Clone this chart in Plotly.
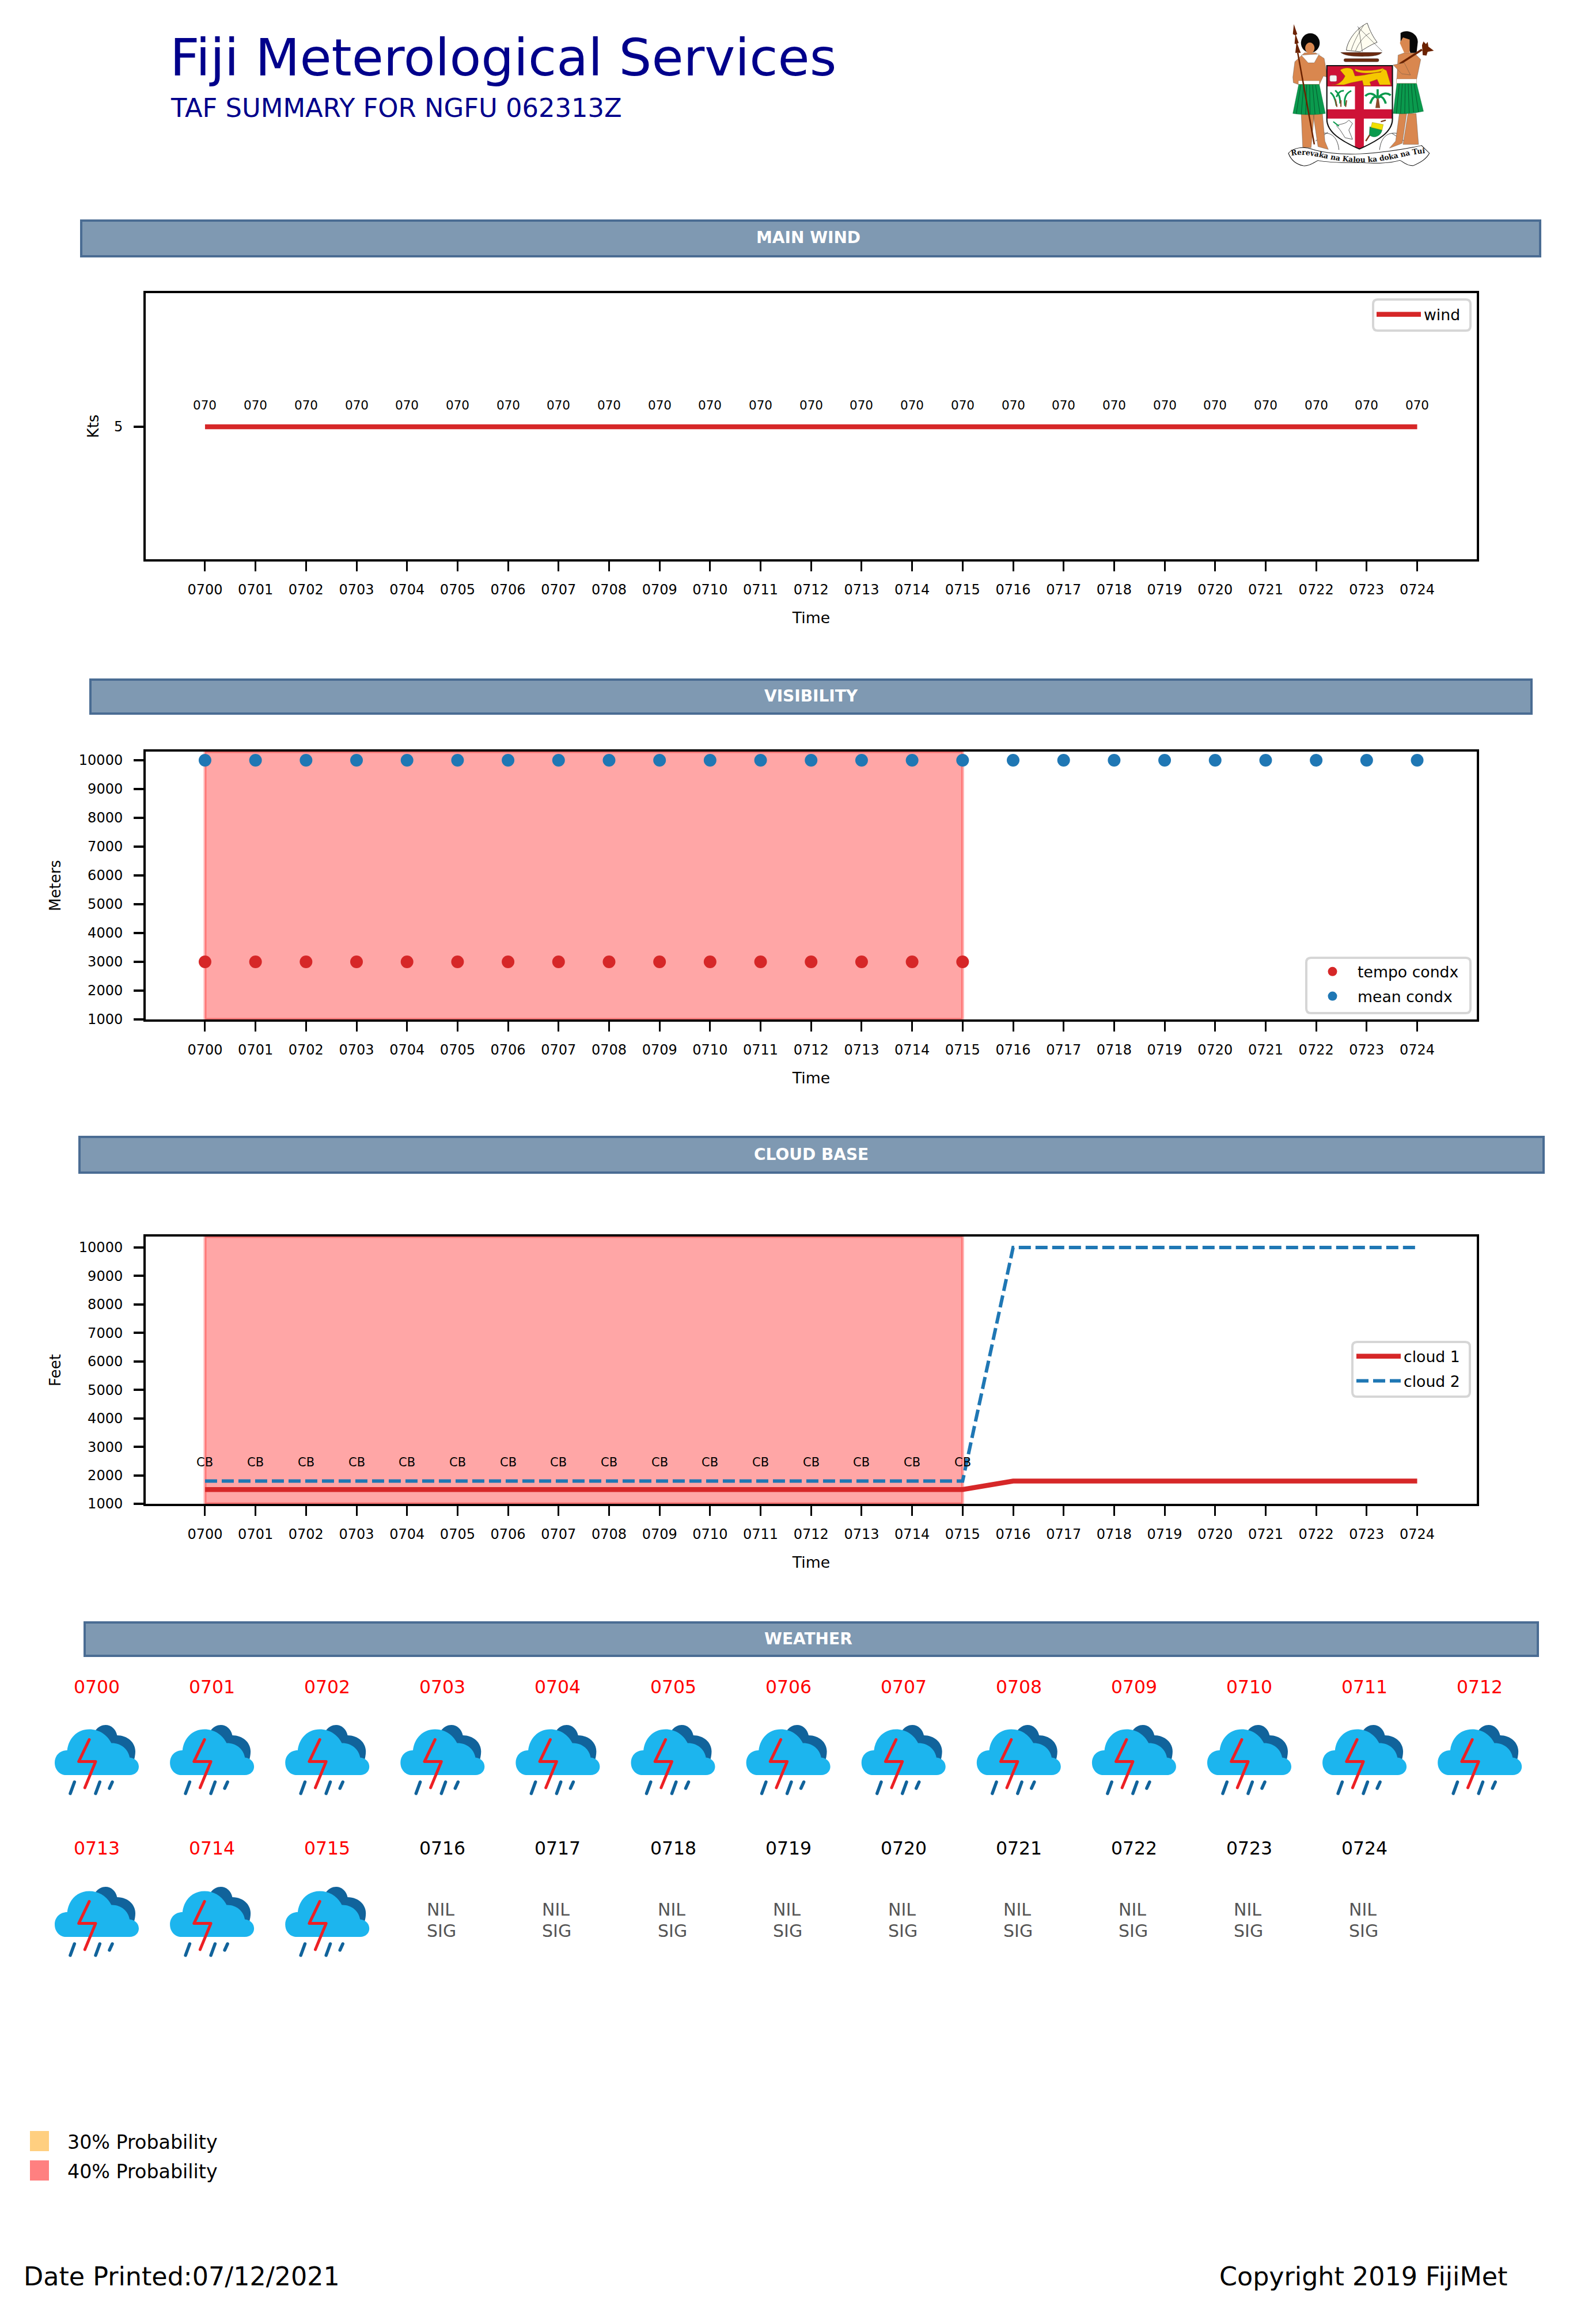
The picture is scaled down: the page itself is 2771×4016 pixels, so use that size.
import base64
import plotly.graph_objects as go

# ---------- data ----------
times = ["0700","0701","0702","0703","0704","0705","0706","0707","0708","0709","0710","0711","0712",
         "0713","0714","0715","0716","0717","0718","0719","0720","0721","0722","0723","0724"]
wind_speed = [5,5,5,5,5,5,5,5,5,5,5,5,5,5,5,5,5,5,5,5,5,5,5,5,5]
wind_dir = ["070","070","070","070","070","070","070","070","070","070","070","070","070",
            "070","070","070","070","070","070","070","070","070","070","070","070"]
vis_mean = [10000,10000,10000,10000,10000,10000,10000,10000,10000,10000,10000,10000,10000,
            10000,10000,10000,10000,10000,10000,10000,10000,10000,10000,10000,10000]
vis_tempo_times = ["0700","0701","0702","0703","0704","0705","0706","0707","0708","0709","0710",
                   "0711","0712","0713","0714","0715"]
vis_tempo = [3000,3000,3000,3000,3000,3000,3000,3000,3000,3000,3000,3000,3000,3000,3000,3000]
cloud1 = [1500,1500,1500,1500,1500,1500,1500,1500,1500,1500,1500,1500,1500,1500,1500,1500,
          1800,1800,1800,1800,1800,1800,1800,1800,1800]
cloud2 = [1800,1800,1800,1800,1800,1800,1800,1800,1800,1800,1800,1800,1800,1800,1800,1800,
          10000,10000,10000,10000,10000,10000,10000,10000,10000]
cb_times = vis_tempo_times
cb_labels = ["CB","CB","CB","CB","CB","CB","CB","CB","CB","CB","CB","CB","CB","CB","CB","CB"]
weather_code = ["TS","TS","TS","TS","TS","TS","TS","TS","TS","TS","TS","TS","TS","TS","TS","TS",
                "NIL","NIL","NIL","NIL","NIL","NIL","NIL","NIL","NIL"]
y_ticks = [1000,2000,3000,4000,5000,6000,7000,8000,9000,10000]

# ---------- page ----------
W, H = 2771, 4016
FONT = "DejaVu Sans"
RED, BLUE = "#d62728", "#1f77b4"
px = lambda x: x / W
py = lambda y: 1 - y / H

def b64svg(s):
    return "data:image/svg+xml;base64," + base64.b64encode(s.encode()).decode()

ICON = b64svg('''<svg xmlns="http://www.w3.org/2000/svg" viewBox="0 0 160 130">
<path fill="#11639b" d="M78 14C83 8 89 5 95.3 5C105 5 113 12 115.3 23C133 23 147 35 147 51C147 56 146 61 145 65L110 60Z"/>
<path fill="#1cb5ee" d="M27 92H137C147 92 153 85 153 77.5C153 70 148 63 137 61.5C135 47 122 36 105.3 36.4C98 22 84 12.5 67 12.5C46 12.5 31 28 28.7 49C16 49 7 58 7 70.4C7 83 16 92 27 92Z"/>
<g fill="none" stroke-linecap="round">
<path stroke="#ed2024" stroke-width="5" stroke-linejoin="round" d="M67 30.4L48.7 68.6H78L59.3 114"/>
<path stroke="#11639b" stroke-width="5.5" d="M41.3 104L34 124M85.3 104L78 124M107 104L102 115"/>
</g></svg>''')

ARMS = b64svg('''<svg xmlns="http://www.w3.org/2000/svg" viewBox="300 90 630 680" preserveAspectRatio="none">
<defs><clipPath id="sh"><path d="M476 298H742V540C742 600 680 640 608 676C535 640 476 600 476 540Z"/></clipPath>
<path id="rb" d="M332 706C420 690 480 735 610 736C730 738 800 695 888 695"/></defs>
<g fill="none" stroke="#222" stroke-width="2">
<path d="M440 610C490 590 520 620 525 680M780 610C725 590 695 620 690 680M430 640L480 600M790 640L740 605"/></g>
<!-- boat -->
<path fill="#fffdf0" stroke="#222" stroke-width="2" d="M555 228C560 180 600 125 640 105C650 140 665 170 680 192C650 205 625 225 610 235Z"/>
<path fill="none" stroke="#222" stroke-width="1.5" d="M575 228C585 190 605 150 625 115M592 232C605 195 625 165 650 150M605 125L620 235M600 120L700 232"/>
<path fill="#6b2a10" stroke="#222" d="M532 238H700C690 250 670 256 620 256C570 256 545 250 532 238Z"/>
<rect x="545" y="266" width="142" height="14" rx="6" fill="#6b2a10" stroke="#222"/>
<!-- left man -->
<path fill="#d9874f" stroke="#444" d="M385 240H430L465 265L478 350L462 345L445 385H365L340 375L338 350L346 280Z"/>
<path fill="#d9874f" stroke="#444" d="M372 515H425L412 670L378 668ZM420 515H458L468 640L482 678L440 665Z"/>
<path fill="#0a9a4d" stroke="#075c30" d="M362 382H445L470 515C430 522 380 522 338 515Z"/>
<path fill="none" stroke="#075c30" stroke-width="2.5" d="M370 385L352 515M382 385L372 518M394 385L390 520M406 385L408 520M418 385L428 518M430 385L448 516"/>
<rect x="360" y="366" width="86" height="16" fill="#fff" stroke="#8a5a2a"/>
<ellipse cx="409" cy="195" rx="38" ry="44" fill="#080808"/>
<ellipse cx="407" cy="218" rx="19" ry="25" fill="#d9874f"/>
<path fill="#fff" stroke="#555" d="M372 250L445 245L425 285H400Z"/>
<path fill="none" stroke="#6b2200" stroke-width="6" d="M358 240L425 655"/>
<path fill="#6b2200" d="M342 110L356 155L350 158L362 195L356 198L370 240L348 240L352 200L345 198L348 160L338 155Z"/>
<!-- right man -->
<path fill="#d9874f" stroke="#444" d="M790 240H830L857 270L840 360H760L765 250Z"/>
<path fill="#d9874f" stroke="#444" d="M800 515H770L755 640L730 672L782 650ZM805 515H838L848 655H785Z"/>
<path fill="#0a9a4d" stroke="#075c30" d="M760 378H840L868 505C825 515 785 518 745 515Z"/>
<path fill="none" stroke="#075c30" stroke-width="2.5" d="M770 380L758 515M782 380L775 515M794 380L792 515M806 380L810 513M818 380L828 511M830 380L848 508"/>
<rect x="758" y="358" width="82" height="20" fill="#fff" stroke="#8a5a2a"/>
<path fill="#080808" d="M775 150C800 130 845 150 845 190L840 240H815L800 200L775 195Z"/>
<path fill="#d9874f" d="M772 195L785 170L812 180V240H790Z"/>
<path fill="none" stroke="#6b2200" stroke-width="9" d="M772 290L862 225"/>
<path fill="#6b2200" d="M862 205L868 188L878 200L885 190L888 212L910 230L885 235L880 252L865 250Z"/>
<path fill="#d9874f" stroke="#444" d="M745 295L790 285L815 340L780 335Z"/>
<!-- shield -->
<path fill="#fff" d="M476 298H742V540C742 600 680 640 608 676C535 640 476 600 476 540Z"/>
<g clip-path="url(#sh)">
<rect x="476" y="298" width="266" height="94" fill="#ce1237"/>
<rect x="590" y="392" width="36" height="290" fill="#ce1237"/>
<rect x="476" y="496" width="266" height="42" fill="#ce1237"/>
</g>
<path fill="none" stroke="#111" stroke-width="5" d="M476 298H742V540C742 600 680 640 608 676C535 640 476 600 476 540Z"/>
<path fill="#f6c800" stroke="#8a6a00" d="M495 385C520 388 540 370 550 345L530 318C545 305 575 305 582 320L590 345C625 345 660 330 695 328L700 310L718 320L735 385H690L680 360L650 372L655 388H625L620 365L575 375L545 385Z"/>
<path fill="#f6c800" stroke="#8a6a00" d="M590 312C620 325 670 322 705 310L700 322C660 335 615 335 592 322Z"/>
<rect x="488" y="342" width="28" height="28" rx="6" fill="#f4f4f4" stroke="#777"/>
<g fill="none" stroke="#0a9a4d" stroke-width="7"><path d="M515 480C512 450 500 425 490 420M515 440C520 425 530 410 545 412M550 480C545 450 550 425 575 412M530 470C530 440 525 425 510 410"/></g>
<g fill="none" stroke="#8a4a2a" stroke-width="5"><path d="M517 485L510 450M552 485L556 455M533 485V455"/></g>
<path fill="#8a4a2a" d="M673 490L679 445H686L692 490Z"/>
<g fill="none" stroke="#0a9a4d" stroke-width="9"><path d="M680 445C665 420 645 420 632 436M684 445C700 420 720 420 735 432M682 445C670 430 660 445 652 470M684 445C695 430 708 445 715 470M682 440V405"/></g>
<path fill="#fff" stroke="#333" stroke-width="2" d="M515 570C535 560 550 565 565 545L580 560L565 590L580 632L550 625L530 590Z"/>
<path fill="none" stroke="#0a9a4d" stroke-width="5" d="M502 552L525 572"/>
<path fill="#0a9a4d" stroke="#064" d="M650 575L700 590C695 620 665 630 648 612Z"/>
<path fill="#f0e000" stroke="#776600" d="M660 555L705 565L700 590L655 578Z"/>
<path fill="none" stroke="#7a3a1a" stroke-width="6" d="M650 612L634 640M695 552L715 545"/>
<!-- motto -->
<path fill="#fff" stroke="#111" stroke-width="2.5" d="M320 695C340 670 380 662 420 678C480 700 560 700 610 698C680 695 780 680 860 660L892 695C880 720 860 735 825 752C790 750 780 725 770 728C720 745 650 740 610 738C570 738 490 740 440 728C420 740 400 755 380 752C350 745 330 725 320 695Z"/>
<text font-family="DejaVu Serif" font-weight="bold" font-size="34" fill="#111"><textPath href="#rb" startOffset="0" textLength="550" lengthAdjust="spacingAndGlyphs">Rerevaka na Kalou ka doka na Tui</textPath></text>
</svg>''')

# ---------- panels ----------
AX_L, AX_R = 253, 2564
PANELS = {"": (509, 971), "2": (1305, 1770), "3": (2147, 2611)}

fig = go.Figure()
fig.add_trace(go.Scatter(x=times, y=wind_speed, mode="lines", name="wind", xaxis="x", yaxis="y", showlegend=True,
                         line=dict(color=RED, width=8.5), legend="legend", hoverinfo="skip"))
fig.add_trace(go.Scatter(x=vis_tempo_times, y=vis_tempo, mode="markers", name="tempo condx", xaxis="x2", yaxis="y2",
                         marker=dict(color=RED, size=22), legend="legend2", legendgroup="a", hoverinfo="skip"))
fig.add_trace(go.Scatter(x=times, y=vis_mean, mode="markers", name="mean condx", xaxis="x2", yaxis="y2",
                         marker=dict(color=BLUE, size=22), legend="legend2", legendgroup="b", hoverinfo="skip", cliponaxis=False))
fig.add_trace(go.Scatter(x=times, y=cloud1, mode="lines", name="cloud 1", xaxis="x3", yaxis="y3",
                         line=dict(color=RED, width=8.5), legend="legend3", legendgroup="a", hoverinfo="skip"))
fig.add_trace(go.Scatter(x=times, y=cloud2, mode="lines", name="cloud 2", xaxis="x3", yaxis="y3",
                         line=dict(color=BLUE, width=6, dash="21px,8px"), legend="legend3", legendgroup="b", hoverinfo="skip"))

def xaxis(suffix, top, bottom):
    return dict(domain=[px(AX_L), px(AX_R)], anchor="y" + suffix, type="category",
                categoryorder="array", categoryarray=times, range=[-1.174, 25.18],
                tickmode="array", tickvals=times, ticktext=times, tickangle=0,
                ticks="outside", ticklen=17, tickwidth=3, tickcolor="black",
                tickfont=dict(size=24, color="black", family=FONT), ticklabelstandoff=11,
                showgrid=False, zeroline=False, showline=True, linecolor="black", linewidth=4, mirror=True,
                title=dict(text="Time", font=dict(size=26.7, color="black", family=FONT), standoff=28))

def yaxis(suffix, top, bottom, rng, tickvals, title, standoff):
    return dict(domain=[py(bottom), py(top)], anchor="x" + suffix, range=rng,
                tickmode="array", tickvals=tickvals, ticktext=[str(v) for v in tickvals],
                ticks="outside", ticklen=17, tickwidth=4, tickcolor="black",
                tickfont=dict(size=24, color="black", family=FONT), ticklabelstandoff=14,
                showgrid=False, zeroline=False, showline=True, linecolor="black", linewidth=4, mirror=True,
                title=dict(text=title, font=dict(size=26, color="black", family=FONT), standoff=standoff))

layout = dict(
    width=W, height=H, margin=dict(l=0, r=0, t=0, b=0, autoexpand=False), showlegend=True,
    paper_bgcolor="white", plot_bgcolor="white", font=dict(family=FONT, color="black"),
    xaxis=xaxis("", *PANELS[""]), xaxis2=xaxis("2", *PANELS["2"]), xaxis3=xaxis("3", *PANELS["3"]),
    yaxis=yaxis("", *PANELS[""], [4.751, 5.251], [5], "Kts", 20),
    yaxis2=yaxis("2", *PANELS["2"], [1000, 10300], y_ticks, "Meters", 25),
    yaxis3=yaxis("3", *PANELS["3"], [1000, 10384], y_ticks, "Feet", 25),
)
def legend(x_px, y_px, gap=5):
    return dict(x=px(x_px), y=py(y_px), xanchor="left", yanchor="top", bgcolor="rgba(0,0,0,0)", borderwidth=0,
                font=dict(size=26.7, color="black", family=FONT), itemwidth=77, tracegroupgap=gap,
                itemclick=False, itemdoubleclick=False, traceorder="grouped")
layout["legend"] = legend(2385, 522)
layout["legend2"] = legend(2270, 1663)
layout["legend3"] = legend(2350, 2331)
fig.update_layout(**layout)

shapes, anns, images = [], [], []

def text(t, x, y, size, color="black", anchor="center", bold=False):
    anns.append(dict(xref="paper", yref="paper", x=px(x), y=py(y), text=f"<b>{t}</b>" if bold else t,
                     showarrow=False, xanchor=anchor, yanchor="middle", borderpad=0,
                     font=dict(size=size, color=color, family=FONT)))

def round_frame(x0, y0, x1, y1, r=8):
    X0, X1, Y0, Y1 = px(x0), px(x1), py(y0), py(y1)
    rx, ry = r / W, r / H
    path = (f"M{X0+rx},{Y0} L{X1-rx},{Y0} Q{X1},{Y0} {X1},{Y0-ry} L{X1},{Y1+ry} Q{X1},{Y1} {X1-rx},{Y1} "
            f"L{X0+rx},{Y1} Q{X0},{Y1} {X0},{Y1+ry} L{X0},{Y0-ry} Q{X0},{Y0} {X0+rx},{Y0} Z")
    shapes.append(dict(type="path", xref="paper", yref="paper", path=path, fillcolor="white",
                       line=dict(color="#d6d6d6", width=4), layer="above"))

# header
text("Fiji Meterological Services", 294, 100, 89.6, "#00008b", "left")
text("TAF SUMMARY FOR NGFU 062313Z", 295, 187, 44.8, "#00008b", "left")
images.append(dict(source=ARMS, xref="paper", yref="paper", x=px(2228.4), y=py(34.4),
                   sizex=(2498 - 2228.4) / W, sizey=(294.7 - 34.4) / H, xanchor="left", yanchor="top",
                   sizing="stretch", layer="above"))

# banners
for label, x0, x1, y0, y1, tx in [("MAIN WIND", 141, 2674, 383, 445, 1403),
                                  ("VISIBILITY", 157, 2659, 1180, 1239, 1408),
                                  ("CLOUD BASE", 138, 2680, 1974, 2036, 1408),
                                  ("WEATHER", 147, 2670, 2817, 2875, 1403)]:
    shapes.append(dict(type="rect", xref="paper", yref="paper", x0=px(x0), x1=px(x1), y0=py(y1), y1=py(y0),
                       fillcolor="#7f99b2", line=dict(color="#4a6c93", width=4), layer="below"))
    text(label, tx, (y0 + y1) / 2 - 1, 28, "white", bold=True)

# probability spans (40 %)
for sfx in ["2", "3"]:
    shapes.append(dict(type="rect", xref="x" + sfx, yref=f"y{sfx} domain",
                       x0=times.index(vis_tempo_times[0]), x1=times.index(vis_tempo_times[-1]),
                       y0=0, y1=1, fillcolor="rgba(255,0,0,0.35)", line=dict(color="rgba(255,0,0,0.3)", width=5),
                       layer="below"))

# data labels
for t, d, v in zip(times, wind_dir, wind_speed):
    anns.append(dict(xref="x", yref="y", x=times.index(t), y=v, yshift=37, text=d, showarrow=False, yanchor="middle",
                     font=dict(size=21.5, color="black", family=FONT)))
for t, c in zip(cb_times, cb_labels):
    i = times.index(t)
    anns.append(dict(xref="x3", yref="y3", x=i, y=cloud2[i], yshift=32, text=c, showarrow=False, yanchor="middle",
                     font=dict(size=21, color="black", family=FONT)))

# weather grid
for i, (t, w) in enumerate(zip(times, weather_code)):
    col, row = i % 13, i // 13
    cx = 168 + 200.1 * col
    text(t, cx, 2929 + 279.5 * row, 31.5, "red" if w == "TS" else "black")
    if w == "TS":
        images.append(dict(source=ICON, xref="paper", yref="paper", x=px(cx - 80), y=py(2990 + 281 * row),
                           sizex=160 / W, sizey=130 / H, xanchor="left", yanchor="top", sizing="stretch", layer="above"))
    else:
        text("NIL", cx - 28, 3315, 30, "#555555", "left")
        text("SIG", cx - 28, 3352, 30, "#555555", "left")

# probability key
for label, col, y0 in [("30% Probability", "#ffcf80", 3700), ("40% Probability", "#ff8080", 3751)]:
    shapes.append(dict(type="rect", xref="paper", yref="paper", x0=px(52), x1=px(85), y0=py(y0 + 35), y1=py(y0),
                       fillcolor=col, line=dict(width=0), layer="above"))
    text(label, 116, y0 + 19, 33.3, "black", "left")

# footer
text("Date Printed:07/12/2021", 40, 3952, 44.4, "black", "left")
text("Copyright 2019 FijiMet", 2116, 3952, 44.4, "black", "left")

round_frame(2384, 520, 2553, 574)
round_frame(2268, 1663, 2553, 1759)
round_frame(2348, 2330, 2552, 2425)

fig.update_layout(shapes=shapes, annotations=anns, images=images)
fig.write_html("out.html", config=dict(displayModeBar=False),
               post_script="document.body.style.margin='0';document.documentElement.style.overflow='hidden';")
